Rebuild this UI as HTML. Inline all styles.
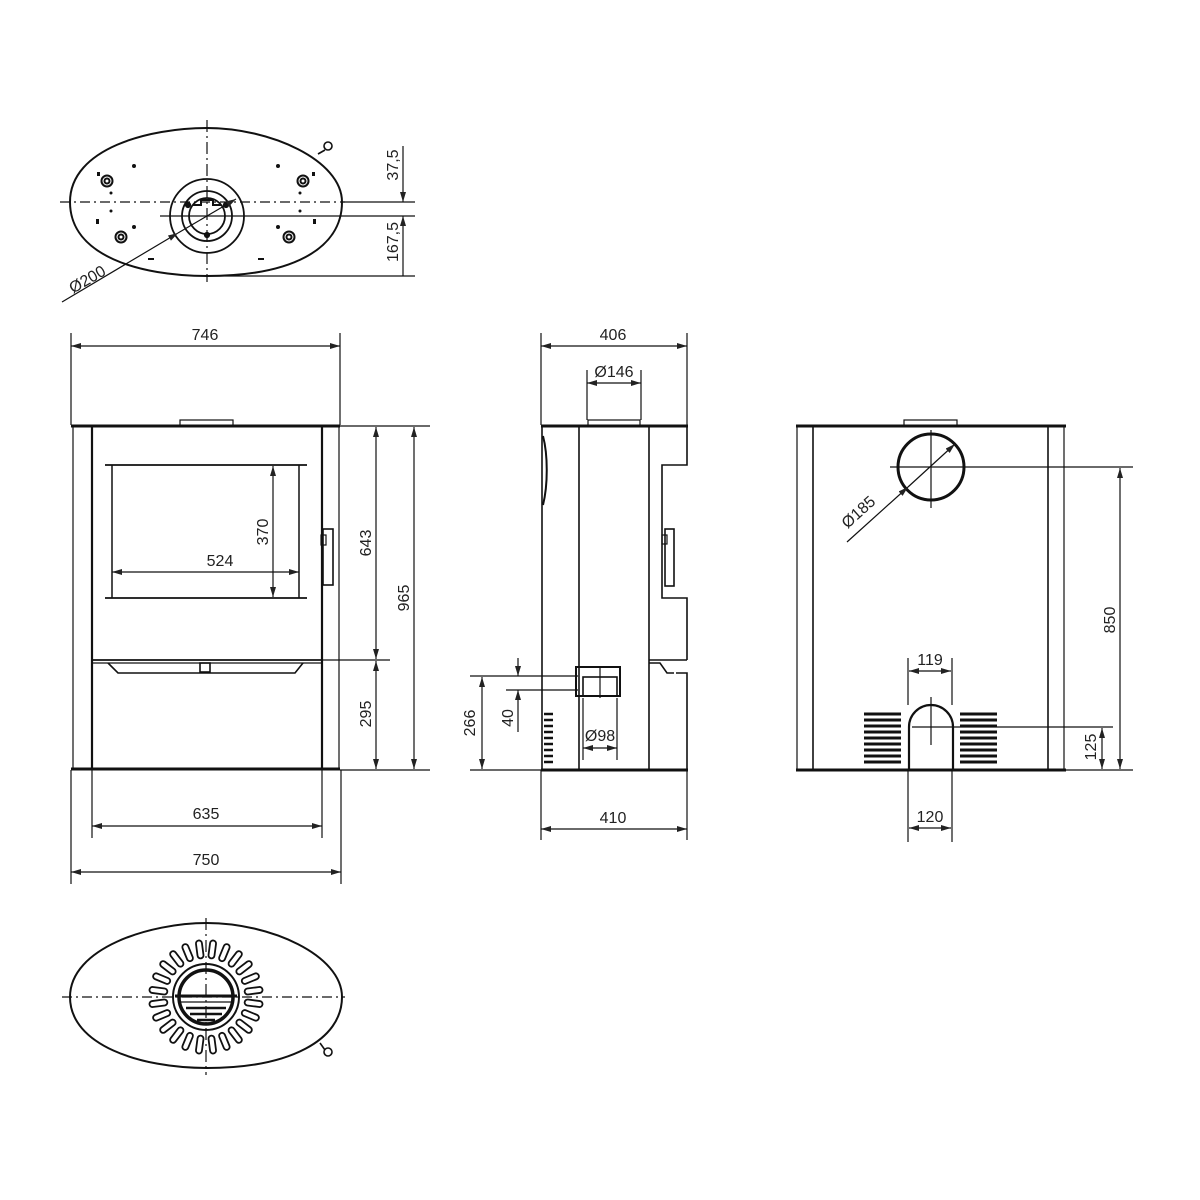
<!DOCTYPE html>
<html><head><meta charset="utf-8"><style>
html,body{margin:0;padding:0;background:#fff}
svg{display:block}
text{font-family:"Liberation Sans",sans-serif;font-size:16px;fill:#222}
</style></head><body>
<svg width="1200" height="1200" viewBox="0 0 1200 1200" xmlns="http://www.w3.org/2000/svg">
<defs>
<marker id="a" viewBox="0 0 10 6" refX="10" refY="3" markerWidth="10" markerHeight="6" orient="auto-start-reverse" markerUnits="userSpaceOnUse"><path d="M0,0 L10,3 L0,6 z" fill="#222"/></marker>
<rect id="slot" x="-3" y="-57" width="6" height="18" rx="3" fill="none" stroke="#111" stroke-width="1.8"/>
</defs>
<g fill="none" stroke="#111" stroke-width="1.2">

<!-- TOP VIEW -->
<path d="M70,202 C70,148 150,128 207,128 C270,128 342,160 342,202 C342,250 290,276 207,276 C140,276 70,256 70,202 Z" stroke-width="2"/>
<path d="M318,154 L325,150" stroke-width="1.6"/><circle cx="328" cy="146" r="4" stroke-width="1.6"/>
<line x1="60" y1="202" x2="345" y2="202" stroke-dasharray="10,4,2,4"/>
<line x1="207" y1="120" x2="207" y2="282" stroke-dasharray="12,4,2,4"/>
<circle cx="207" cy="216" r="37" stroke-width="1.8"/>
<circle cx="207" cy="216" r="25" stroke-width="1.8"/>
<circle cx="207" cy="216" r="18" stroke-width="1.8"/>
<path d="M193,205 h8 v-5 h12 v5 h8" stroke-width="2"/>
<g fill="#111"><circle cx="188" cy="205" r="2.5"/><circle cx="226" cy="205" r="2.5"/><circle cx="207" cy="235" r="2.5"/></g>
<g stroke-width="2">
<circle cx="107" cy="181" r="5.5"/><circle cx="107" cy="181" r="2.5"/>
<circle cx="303" cy="181" r="5.5"/><circle cx="303" cy="181" r="2.5"/>
<circle cx="121" cy="237" r="5.5"/><circle cx="121" cy="237" r="2.5"/>
<circle cx="289" cy="237" r="5.5"/><circle cx="289" cy="237" r="2.5"/>
</g>
<g fill="#111" stroke="none">
<circle cx="134" cy="166" r="2"/><circle cx="278" cy="166" r="2"/><circle cx="111" cy="193" r="1.5"/><circle cx="300" cy="193" r="1.5"/>
<circle cx="111" cy="211" r="1.5"/><circle cx="300" cy="211" r="1.5"/><circle cx="134" cy="227" r="2"/><circle cx="278" cy="227" r="2"/>
<rect x="96" y="219" width="3" height="5"/><rect x="313" y="219" width="3" height="5"/>
<rect x="148" y="258" width="6" height="2"/><rect x="258" y="258" width="6" height="2"/>
<rect x="97" y="172" width="3" height="4"/><rect x="312" y="172" width="3" height="4"/>
</g>
<line x1="160" y1="216" x2="415" y2="216"/>
<line x1="342" y1="202" x2="415" y2="202"/>
<line x1="207" y1="276" x2="415" y2="276"/>
<line x1="403" y1="146" x2="403" y2="202" marker-end="url(#a)"/>
<line x1="403" y1="276" x2="403" y2="216" marker-end="url(#a)"/>
<line x1="62" y1="302" x2="178" y2="233" marker-end="url(#a)"/>
<line x1="178" y1="233" x2="236" y2="199" marker-end="url(#a)"/>

<!-- FRONT VIEW -->
<line x1="71" y1="333" x2="71" y2="425"/><line x1="340" y1="333" x2="340" y2="425"/>
<line x1="71" y1="346" x2="340" y2="346" marker-start="url(#a)" marker-end="url(#a)"/>
<rect x="180" y="420" width="53" height="6"/>
<line x1="71" y1="426" x2="340" y2="426" stroke-width="3"/>
<line x1="71" y1="769" x2="340" y2="769" stroke-width="3"/>
<line x1="73" y1="426" x2="73" y2="770"/><line x1="339" y1="426" x2="339" y2="770"/>
<line x1="92" y1="426" x2="92" y2="770" stroke-width="2.2"/><line x1="322" y1="426" x2="322" y2="770" stroke-width="2.2"/>
<line x1="105" y1="465" x2="307" y2="465" stroke-width="1.8"/><line x1="105" y1="598" x2="307" y2="598" stroke-width="1.8"/>
<line x1="112" y1="465" x2="112" y2="598" stroke-width="1.5"/><line x1="299" y1="465" x2="299" y2="598" stroke-width="1.5"/>
<line x1="112" y1="572" x2="299" y2="572" marker-start="url(#a)" marker-end="url(#a)"/>
<line x1="273" y1="466" x2="273" y2="597" marker-start="url(#a)" marker-end="url(#a)"/>
<rect x="323" y="529" width="10" height="56" stroke-width="1.6"/><rect x="321" y="535" width="5" height="10"/>
<line x1="92" y1="660" x2="322" y2="660" stroke-width="1.8"/><line x1="92" y1="663" x2="322" y2="663"/>
<path d="M108,663 L118,673 L295,673 L303,663" stroke-width="1.6"/>
<rect x="200" y="663" width="10" height="9" stroke-width="1.6"/>
<line x1="340" y1="426" x2="430" y2="426"/><line x1="322" y1="660" x2="390" y2="660"/><line x1="340" y1="770" x2="430" y2="770"/>
<line x1="376" y1="427" x2="376" y2="659" marker-start="url(#a)" marker-end="url(#a)"/>
<line x1="376" y1="661" x2="376" y2="769" marker-start="url(#a)" marker-end="url(#a)"/>
<line x1="414" y1="427" x2="414" y2="769" marker-start="url(#a)" marker-end="url(#a)"/>
<line x1="92" y1="770" x2="92" y2="838"/><line x1="322" y1="770" x2="322" y2="838"/>
<line x1="92" y1="826" x2="322" y2="826" marker-start="url(#a)" marker-end="url(#a)"/>
<line x1="71" y1="770" x2="71" y2="884"/><line x1="341" y1="770" x2="341" y2="884"/>
<line x1="71" y1="872" x2="341" y2="872" marker-start="url(#a)" marker-end="url(#a)"/>

<!-- SIDE VIEW -->
<line x1="541" y1="333" x2="541" y2="425"/><line x1="687" y1="333" x2="687" y2="425"/>
<line x1="541" y1="346" x2="687" y2="346" marker-start="url(#a)" marker-end="url(#a)"/>
<line x1="587" y1="370" x2="587" y2="420"/><line x1="641" y1="370" x2="641" y2="420"/>
<line x1="587" y1="383" x2="641" y2="383" marker-start="url(#a)" marker-end="url(#a)"/>
<rect x="588" y="420" width="52" height="6"/>
<line x1="541" y1="426" x2="688" y2="426" stroke-width="3"/>
<line x1="541" y1="770" x2="688" y2="770" stroke-width="3"/>
<line x1="542" y1="426" x2="542" y2="770" stroke-width="1.6"/>
<path d="M543,436 C548,455 548,485 543,505" stroke-width="2"/>
<line x1="579" y1="426" x2="579" y2="770" stroke-width="1.6"/>
<line x1="649" y1="426" x2="649" y2="770" stroke-width="1.6"/>
<path d="M687,426 V465 H662 V598 H687 V660 M649,660 H687 M649,663 H660 L667,673 H674 M676,673 H687 V770" stroke-width="1.6"/>
<rect x="665" y="529" width="9" height="57" stroke-width="1.6"/><rect x="662" y="535" width="5" height="9"/>
<rect x="576" y="667" width="44" height="29" stroke-width="2"/>
<rect x="583" y="677" width="34" height="19" stroke-width="1.6"/>
<line x1="600" y1="667" x2="600" y2="698"/>
<g stroke-width="2.5"><line x1="544" y1="714" x2="553" y2="714"/><line x1="544" y1="720" x2="553" y2="720"/><line x1="544" y1="726" x2="553" y2="726"/><line x1="544" y1="732" x2="553" y2="732"/><line x1="544" y1="738" x2="553" y2="738"/><line x1="544" y1="744" x2="553" y2="744"/><line x1="544" y1="750" x2="553" y2="750"/><line x1="544" y1="756" x2="553" y2="756"/><line x1="544" y1="762" x2="553" y2="762"/></g>
<line x1="470" y1="676" x2="578" y2="676"/><line x1="506" y1="690" x2="578" y2="690"/><line x1="470" y1="770" x2="541" y2="770"/>
<line x1="482" y1="677" x2="482" y2="769" marker-start="url(#a)" marker-end="url(#a)"/>
<line x1="518" y1="658" x2="518" y2="676" marker-end="url(#a)"/>
<line x1="518" y1="732" x2="518" y2="690" marker-end="url(#a)"/>
<line x1="583" y1="698" x2="583" y2="760"/><line x1="617" y1="698" x2="617" y2="760"/>
<line x1="583" y1="748" x2="617" y2="748" marker-start="url(#a)" marker-end="url(#a)"/>
<line x1="541" y1="770" x2="541" y2="840"/><line x1="687" y1="770" x2="687" y2="840"/>
<line x1="541" y1="829" x2="687" y2="829" marker-start="url(#a)" marker-end="url(#a)"/>

<!-- BACK VIEW -->
<rect x="904" y="420" width="53" height="6"/>
<line x1="796" y1="426" x2="1066" y2="426" stroke-width="3"/>
<line x1="796" y1="770" x2="1066" y2="770" stroke-width="3"/>
<line x1="797" y1="426" x2="797" y2="770"/><line x1="1064" y1="426" x2="1064" y2="770"/>
<line x1="813" y1="426" x2="813" y2="770" stroke-width="1.6"/><line x1="1048" y1="426" x2="1048" y2="770" stroke-width="1.6"/>
<circle cx="931" cy="467" r="33" stroke-width="3"/>
<line x1="890" y1="467" x2="1133" y2="467"/><line x1="931" y1="430" x2="931" y2="508"/>
<line x1="847" y1="542" x2="908" y2="487" marker-end="url(#a)"/>
<line x1="908" y1="487" x2="955" y2="444" marker-end="url(#a)"/>
<line x1="1120" y1="468" x2="1120" y2="769" marker-start="url(#a)" marker-end="url(#a)"/>
<line x1="912" y1="727" x2="1113" y2="727"/><line x1="1065" y1="770" x2="1133" y2="770"/>
<line x1="1102" y1="728" x2="1102" y2="769" marker-start="url(#a)" marker-end="url(#a)"/>
<path d="M909,770 V727 A22,22 0 0 1 953,727 V770" stroke-width="2.2"/>
<line x1="931" y1="697" x2="931" y2="745"/>
<g stroke-width="3">
<line x1="864" y1="714" x2="901" y2="714"/><line x1="864" y1="720" x2="901" y2="720"/><line x1="864" y1="726" x2="901" y2="726"/><line x1="864" y1="732" x2="901" y2="732"/><line x1="864" y1="738" x2="901" y2="738"/><line x1="864" y1="744" x2="901" y2="744"/><line x1="864" y1="750" x2="901" y2="750"/><line x1="864" y1="756" x2="901" y2="756"/><line x1="864" y1="762" x2="901" y2="762"/>
<line x1="960" y1="714" x2="997" y2="714"/><line x1="960" y1="720" x2="997" y2="720"/><line x1="960" y1="726" x2="997" y2="726"/><line x1="960" y1="732" x2="997" y2="732"/><line x1="960" y1="738" x2="997" y2="738"/><line x1="960" y1="744" x2="997" y2="744"/><line x1="960" y1="750" x2="997" y2="750"/><line x1="960" y1="756" x2="997" y2="756"/><line x1="960" y1="762" x2="997" y2="762"/>
</g>
<line x1="908" y1="658" x2="908" y2="705"/><line x1="952" y1="658" x2="952" y2="705"/>
<line x1="909" y1="671" x2="951" y2="671" marker-start="url(#a)" marker-end="url(#a)"/>
<line x1="908" y1="770" x2="908" y2="842"/><line x1="952" y1="770" x2="952" y2="842"/>
<line x1="909" y1="828" x2="951" y2="828" marker-start="url(#a)" marker-end="url(#a)"/>

<!-- BOTTOM VIEW -->
<path d="M70,997 C70,948 150,923 207,923 C270,923 342,955 342,997 C342,1040 290,1068 207,1068 C140,1068 70,1045 70,997 Z" stroke-width="2"/>
<path d="M320,1043 L325,1050" stroke-width="1.6"/><circle cx="328" cy="1052" r="4" stroke-width="1.6"/>
<line x1="62" y1="997" x2="345" y2="997" stroke-dasharray="10,4,2,4"/>
<line x1="206" y1="918" x2="206" y2="1075" stroke-dasharray="12,4,2,4"/>
<circle cx="206" cy="997" r="33" stroke-width="2"/>
<circle cx="206" cy="997" r="27" stroke-width="3.5"/>
<line x1="175" y1="996" x2="237" y2="996" stroke-width="3"/><line x1="179" y1="1002" x2="233" y2="1002"/>
<path d="M186,1008 H226 M190,1014 H222 M197,1020 H215" stroke-width="2.5"/>
<g transform="translate(206,997)">
<use href="#slot" transform="rotate(7.5)"/><use href="#slot" transform="rotate(22.5)"/><use href="#slot" transform="rotate(37.5)"/><use href="#slot" transform="rotate(52.5)"/><use href="#slot" transform="rotate(67.5)"/><use href="#slot" transform="rotate(82.5)"/><use href="#slot" transform="rotate(97.5)"/><use href="#slot" transform="rotate(112.5)"/><use href="#slot" transform="rotate(127.5)"/><use href="#slot" transform="rotate(142.5)"/><use href="#slot" transform="rotate(157.5)"/><use href="#slot" transform="rotate(172.5)"/><use href="#slot" transform="rotate(187.5)"/><use href="#slot" transform="rotate(202.5)"/><use href="#slot" transform="rotate(217.5)"/><use href="#slot" transform="rotate(232.5)"/><use href="#slot" transform="rotate(247.5)"/><use href="#slot" transform="rotate(262.5)"/><use href="#slot" transform="rotate(277.5)"/><use href="#slot" transform="rotate(292.5)"/><use href="#slot" transform="rotate(307.5)"/><use href="#slot" transform="rotate(322.5)"/><use href="#slot" transform="rotate(337.5)"/><use href="#slot" transform="rotate(352.5)"/>
</g>
</g>

<!-- TEXT -->
<text x="205" y="340" text-anchor="middle">746</text>
<text x="220" y="566" text-anchor="middle">524</text>
<text transform="translate(268,532) rotate(-90)" text-anchor="middle">370</text>
<text transform="translate(371,543) rotate(-90)" text-anchor="middle">643</text>
<text transform="translate(371,714) rotate(-90)" text-anchor="middle">295</text>
<text transform="translate(409,598) rotate(-90)" text-anchor="middle">965</text>
<text x="206" y="819" text-anchor="middle">635</text>
<text x="206" y="865" text-anchor="middle">750</text>
<text transform="translate(398,165) rotate(-90)" text-anchor="middle">37,5</text>
<text transform="translate(398,242) rotate(-90)" text-anchor="middle">167,5</text>
<text transform="translate(90,284) rotate(-30)" text-anchor="middle">Ø200</text>
<text x="613" y="340" text-anchor="middle">406</text>
<text x="614" y="377" text-anchor="middle">Ø146</text>
<text x="600" y="741" text-anchor="middle">Ø98</text>
<text transform="translate(475,723) rotate(-90)" text-anchor="middle">266</text>
<text transform="translate(513,718) rotate(-90)" text-anchor="middle">40</text>
<text x="613" y="823" text-anchor="middle">410</text>
<text transform="translate(862,516) rotate(-42)" text-anchor="middle">Ø185</text>
<text transform="translate(1115,620) rotate(-90)" text-anchor="middle">850</text>
<text transform="translate(1096,747) rotate(-90)" text-anchor="middle">125</text>
<text x="930" y="665" text-anchor="middle">119</text>
<text x="930" y="822" text-anchor="middle">120</text>
</svg>
</body></html>
